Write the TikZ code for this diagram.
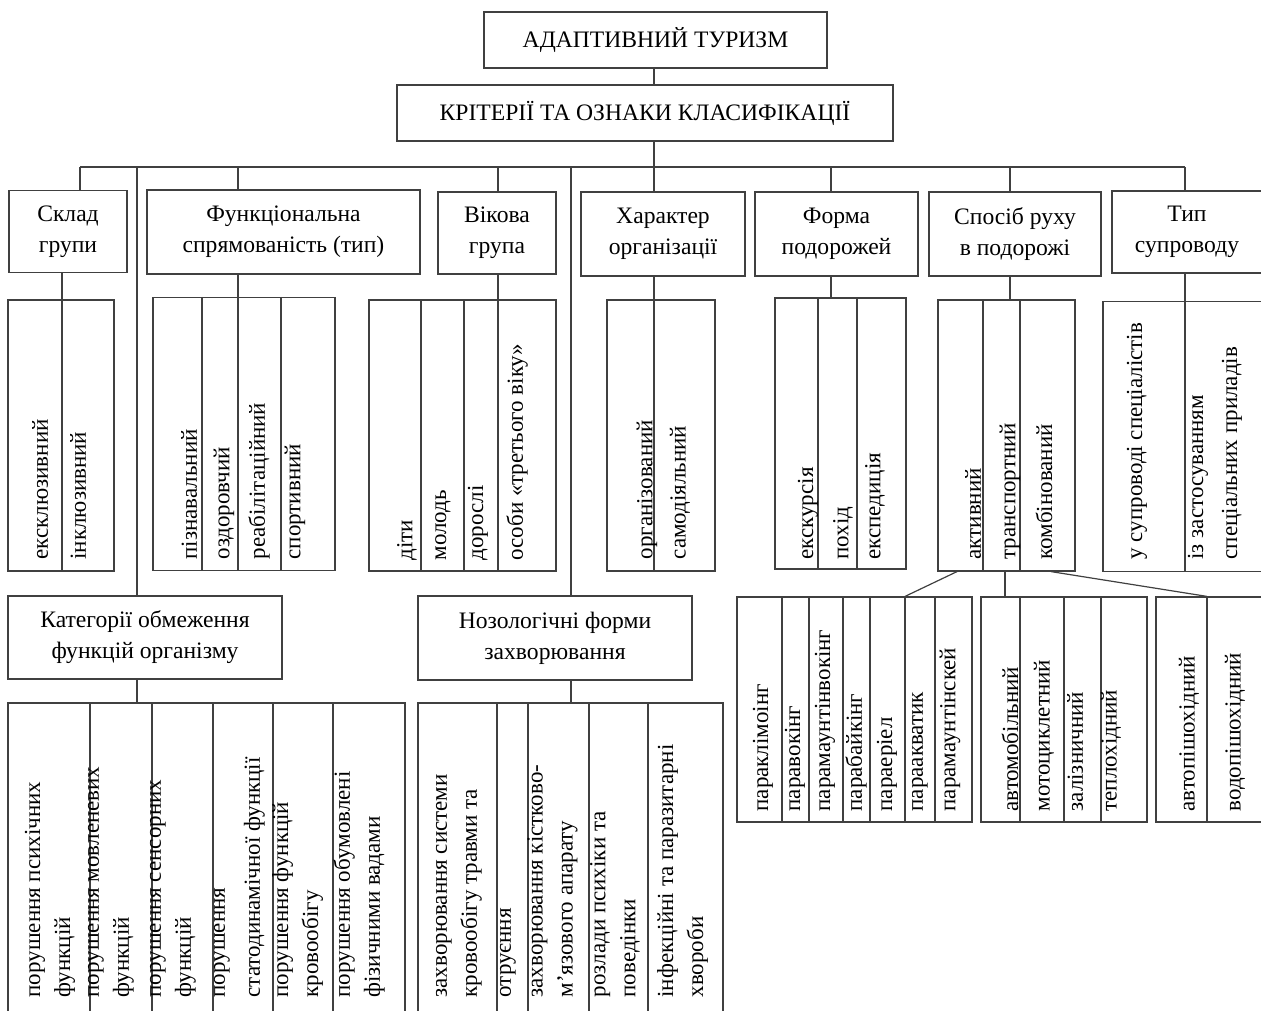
\documentclass[tikz,border=0pt]{standalone}
\usepackage{fontspec}
\setmainfont{Liberation Serif}

\begin{document}
\begin{tikzpicture}[
	x=0.5pt, y=-0.5pt,
	line width=0.6pt, black!75,
	text=black,
	font=\fontsize{11.8}{15.5}\selectfont,
	box/.style={draw, align=center, inner sep=0pt},
	frame/.style={draw, inner sep=0pt},
	leaf/.style={rotate=90, anchor=west, inner sep=0pt, align=left,
		font=\fontsize{11.5}{15}\selectfont}
	]
	\useasboundingbox (0,0) rectangle (1261,1010);
	\clip (0,0) rectangle (1261,1010);

	%% line 1
	\node[box, minimum width=171.5pt, minimum height=28pt] (adapt) at (655.5,40) {АДАПТИВНИЙ ТУРИЗМ};
	\node[box, minimum width=248pt, minimum height=28pt] (krit) at (645,113) {КРІТЕРІЇ ТА ОЗНАКИ КЛАСИФІКАЦІЇ};

	%% line 2
	\node[box, minimum width=59pt, minimum height=41pt] (sklad) at (68,231.5) {Склад\\групи};
	\node[box, minimum width=136.5pt, minimum height=42pt] (fun) at (283.5,232) {Функціональна\\спрямованість (тип)};
	\node[box, minimum width=59pt, minimum height=41pt] (vik) at (497,233) {Вікова\\група};
	\node[box, minimum width=82pt, minimum height=42pt] (har) at (663,234) {Характер\\організації};
	\node[box, minimum width=81.5pt, minimum height=42pt] (form) at (836.5,234) {Форма\\подорожей};
	\node[box, minimum width=86pt, minimum height=42pt] (spos) at (1015,234) {Спосіб руху\\в подорожі};
	\node[box, minimum width=75pt, minimum height=41pt] (typ) at (1187,232) {Тип\\супроводу};

	%% line 3
	\node[frame, minimum width=53pt, minimum height=135.5pt] (skladL) at (61,435.5) {};
	\node[frame, minimum width=91pt, minimum height=136.5pt] (funL) at (244,434) {};
	\node[frame, minimum width=93.5pt, minimum height=135.5pt] (vikL) at (462.5,435.5) {};
	\node[frame, minimum width=54pt, minimum height=135.5pt] (harL) at (661,435.5) {};
	\node[frame, minimum width=65.5pt, minimum height=135.5pt] (formL) at (840.5,433.5) {};
	\node[frame, minimum width=68.5pt, minimum height=135.5pt] (sposL) at (1006.5,435.5) {};
	\node[frame, minimum width=80pt, minimum height=135pt] (typL) at (1183,436.5) {};

	%% line 4
	\node[box, minimum width=137pt, minimum height=41.5pt] (kat) at (145,637.5) {Категорії обмеження\\функцій організму};
	\node[box, minimum width=137pt, minimum height=42pt] (noz) at (555,638) {Нозологічні форми\\захворювання};
	\node[frame, minimum width=117.5pt, minimum height=112.5pt] (parL) at (854.5,709.5) {};
	\node[frame, minimum width=83pt, minimum height=112.5pt] (autoL) at (1064,709.5) {};
	\node[frame, minimum width=53.5pt, minimum height=112.5pt] (pedL) at (1209.5,709.5) {};

	%% line 5
	\node[frame, minimum width=198.5pt, minimum height=163.5pt] (katL) at (206.5,866.5) {};
	\node[frame, minimum width=152.5pt, minimum height=163.5pt] (nozL) at (570.5,866.5) {};

	%% bus points
	\coordinate (bS) at (80,167);
	\coordinate (bK) at (137,167);
	\coordinate (bF) at (238,167);
	\coordinate (bV) at (498,167);
	\coordinate (bN) at (571,167);
	\coordinate (bH) at (654,167);
	\coordinate (bR) at (831,167);
	\coordinate (bP) at (1010,167);
	\coordinate (bT) at (1185,167);

	\draw (bH |- adapt.south) -- (bH |- krit.north);
	\draw (bH |- krit.south) -- (bH);
	\draw (bS) -- (bT);
	\foreach \b/\n in {bS/sklad, bF/fun, bV/vik, bH/har, bR/form, bP/spos, bT/typ, bK/kat, bN/noz}
		\draw (\b) -- (\b |- \n.north);

	%% down to the leaves
	\draw (sklad.south -| 62,0) -- (skladL.south -| 62,0);
	\draw (bF |- fun.south) -- (bF |- funL.south);
	\draw (bV |- vik.south) -- (bV |- vikL.south);
	\draw (bH |- har.south) -- (bH |- harL.south);
	\draw (bR |- form.south) -- (bR |- formL.north);
	\draw (bP |- spos.south) -- (bP |- sposL.north);
	\draw (bT |- typ.south) -- (bT |- typL.south);
	\draw (bK |- kat.south) -- (bK |- katL.north);
	\draw (bN |- noz.south) -- (bN |- nozL.north);
	\draw (957,0 |- sposL.south) -- (905,0 |- parL.north);
	\draw (1005,0 |- sposL.south) -- (1005,0 |- autoL.north);
	\draw (1051,0 |- sposL.south) -- (1207,0 |- pedL.north);

	%% dividers
	\foreach \x in {202,281} \draw (\x,0 |- funL.north) -- (\x,0 |- funL.south);
	\foreach \x in {421,464} \draw (\x,0 |- vikL.north) -- (\x,0 |- vikL.south);
	\foreach \x in {818,857} \draw (\x,0 |- formL.north) -- (\x,0 |- formL.south);
	\foreach \x in {983,1020} \draw (\x,0 |- sposL.north) -- (\x,0 |- sposL.south);
	\foreach \x in {90,152,213,273,333} \draw (\x,0 |- katL.north) -- (\x,0 |- katL.south);
	\foreach \x in {497,528,589,648} \draw (\x,0 |- nozL.north) -- (\x,0 |- nozL.south);
	\foreach \x in {782,809,843,870,905,935} \draw (\x,0 |- parL.north) -- (\x,0 |- parL.south);
	\foreach \x in {1020,1064,1101} \draw (\x,0 |- autoL.north) -- (\x,0 |- autoL.south);
	\draw (1207,0 |- pedL.north) -- (1207,0 |- pedL.south);

	%% leaf texts
	\foreach \x/\t [count=\i] in {40/ексклюзивний, 78/інклюзивний}
		\node[leaf] (s\i) at (\x,560) {\t};
	\foreach \x/\t [count=\i] in {189/пізнавальний, 224/оздоровчий, 259/реабілітаційний, 295/спортивний}
		\node[leaf] (f\i) at (\x,560) {\t};
	\foreach \x/\t [count=\i] in {407/діти, 443/молодь, 478/дорослі, 517/особи «третього віку»}
		\node[leaf] (v\i) at (\x,561) {\t};
	\foreach \x/\t [count=\i] in {647/організований, 680/самодіяльний}
		\node[leaf] (h\i) at (\x,560) {\t};
	\foreach \x/\t [count=\i] in {808/екскурсія, 843/похід, 875/експедиція}
		\node[leaf] (p\i) at (\x,560) {\t};
	\foreach \x/\t [count=\i] in {973/активний, 1010/транспортний, 1044/комбінований}
		\node[leaf] (r\i) at (\x,560) {\t};
	\node[leaf] (t1) at (1137,560) {у супроводі спеціалістів};
	\node[leaf] (t2) at (1215,560) {із застосуванням\\[2pt]спеціальних приладів};

	\foreach \x/\t [count=\i] in {50/{порушення психічних\\функцій},
		111/{порушення мовленевих\\функцій},
		173/{порушення сенсорних\\функцій},
		239.5/{порушення\\[2.5pt]статодинамічної функції},
		297.5/{порушення функцій\\кровообігу},
		359/{порушення обумовлені\\фізичними вадами}}
		\node[leaf] (k\i) at (\x,998) {\t};
	\foreach \x/\t [count=\i] in {459/{захворювання системи\\кровообігу травми та},
		508/{отруєння},
		552.5/{захворювання кістково-\\м’язового апарату},
		615/{розлади психіки та\\поведінки},
		682.5/{інфекційні та паразитарні\\хвороби}}
		\node[leaf] (n\i) at (\x,998) {\t};

	\foreach \x/\t [count=\i] in {763/параклімоінг, 795/паравокінг, 825/парамаунтінвокінг, 856/парабайкінг,
		887/параеріел, 920/параакватик, 950/парамаунтінскей}
		\node[leaf] (pa\i) at (\x,812) {\t};
	\foreach \x/\t [count=\i] in {1010/автомобільний, 1044/мотоциклетний, 1075/залізничний, 1111/теплохідний}
		\node[leaf] (au\i) at (\x,812) {\t};
	\foreach \x/\t [count=\i] in {1189/автопішохідний, 1235/водопішохідний}
		\node[leaf] (pe\i) at (\x,812) {\t};

\end{tikzpicture}
\end{document}
